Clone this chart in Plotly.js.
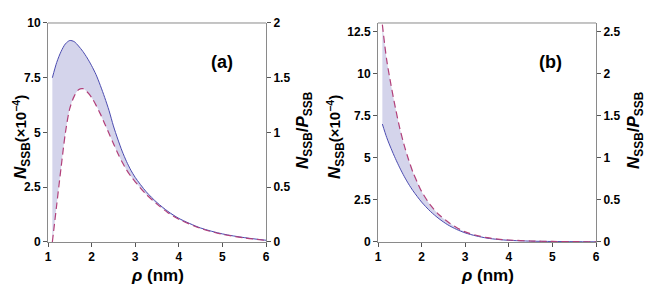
<!DOCTYPE html>
<html><head><meta charset="utf-8">
<script src="https://cdn.plot.ly/plotly-3.0.1.min.js"></script>
<style>html,body{margin:0;padding:0;background:#fff}</style>
</head><body><div id="chart" style="width:645px;height:291px"></div>
<script>
// Panel (a)
const rhoA = [1.1,1.2,1.3,1.4,1.5,1.6,1.7,1.8,1.9,2.0,2.1,2.2,2.3,2.4,2.5,2.6,2.7,2.8,2.9,3.0,3.25,3.5,3.75,4.0,4.5,5.0,5.5,6.0];
const solidA = [7.5,8.2,8.7,9.05,9.2,9.15,8.95,8.7,8.4,8.05,7.65,7.15,6.6,6.0,5.3,4.7,4.15,3.68,3.28,2.95,2.3,1.8,1.4,1.08,0.64,0.37,0.2,0.08];
const dashA  = [0.0,1.7,3.4,5.0,6.1,6.65,6.95,7.0,6.85,6.6,6.25,5.85,5.4,4.95,4.5,4.05,3.65,3.3,3.0,2.75,2.18,1.73,1.34,1.04,0.62,0.35,0.19,0.07];
// Panel (b)
const rhoB = [1.1,1.2,1.3,1.4,1.5,1.6,1.7,1.8,1.9,2.0,2.2,2.4,2.6,2.8,3.0,3.25,3.5,3.75,4.0,4.5,5.0,5.5,6.0];
const solidB = [7.0,6.2,5.55,4.95,4.4,3.9,3.45,3.05,2.7,2.37,1.82,1.38,1.02,0.75,0.54,0.36,0.23,0.15,0.1,0.05,0.03,0.02,0.01];
const dashB  = [12.9,10.8,9.3,7.95,6.75,5.75,4.9,4.15,3.55,3.0,2.2,1.62,1.2,0.86,0.6,0.4,0.26,0.17,0.12,0.06,0.035,0.02,0.01];
const xTicks = [1,2,3,4,5,6];
const yTicksA = [0,2.5,5,7.5,10];
const yTicksA2 = [0,0.5,1,1.5,2];
const yTicksB = [0,2.5,5,7.5,10,12.5];
const yTicksB2 = [0,0.5,1,1.5,2,2.5];
const panelLabels = ['(a)','(b)'];

const blue = '#4b4bb0', red = '#b2407a', fillC = 'rgb(212,212,235)';
const traces = [
  {x:rhoA, y:solidA, xaxis:'x', yaxis:'y', mode:'lines', line:{color:blue,width:1,shape:'spline',smoothing:0.8}, hoverinfo:'skip'},
  {x:rhoA, y:dashA, xaxis:'x', yaxis:'y', mode:'lines', fill:'tonexty', fillcolor:fillC, line:{color:red,width:1.2,dash:'7px,4px',shape:'spline',smoothing:0.8}, hoverinfo:'skip'},
  {x:[1], y:[0], xaxis:'x', yaxis:'y2', mode:'lines', line:{width:0}, hoverinfo:'skip'},
  {x:rhoB, y:solidB, xaxis:'x2', yaxis:'y3', mode:'lines', line:{color:blue,width:1,shape:'spline',smoothing:0.8}, hoverinfo:'skip'},
  {x:rhoB, y:dashB, xaxis:'x2', yaxis:'y3', mode:'lines', fill:'tonexty', fillcolor:fillC, line:{color:red,width:1.2,dash:'7px,4px',shape:'spline',smoothing:0.8}, hoverinfo:'skip'},
  {x:[1], y:[0], xaxis:'x2', yaxis:'y4', mode:'lines', line:{width:0}, hoverinfo:'skip'}
];

const F = 'Liberation Sans, Arial, sans-serif';
const tickFont = {family:F, size:12, color:'#000'};
const axLine = '#8a8a8a';
const bold = v => '<b>' + v + '</b>';
function xa(domain, anchor){return {domain:domain, anchor:anchor, range:[1,6], tickvals:xTicks, ticktext:xTicks.map(bold), ticks:'outside', ticklen:4, tickcolor:'#555', showline:true, linecolor:axLine, linewidth:1, showgrid:false, zeroline:false, tickfont:tickFont, fixedrange:true};}
function ya(anchor, range, vals, side, overlaying){const o={anchor:anchor, range:range, tickvals:vals, ticktext:vals.map(bold), ticks:'outside', ticklen:4, tickcolor:'#555', showline:true, linecolor:axLine, linewidth:1, showgrid:false, zeroline:false, tickfont:tickFont, side:side, domain:[0.1684,0.921], fixedrange:true}; if(overlaying){o.overlaying=overlaying;} return o;}

const tf = {family:F, size:17, color:'#000'};
const yTitle = '<b><i>N</i><sub>SSB</sub><span style="font-size:15px">(×10<sup>−4</sup>)</span></b>';
const y2Title = '<b><i>N</i><sub>SSB</sub>/<i>P</i><sub>SSB</sub></b>';
const xTitle = '<b><i>ρ</i> (nm)</b>';
const yl = 1-137/291, yr = 1-130/291;
const annotations = [
  {text:yTitle, x:21/645, y:yl, xref:'paper', yref:'paper', textangle:-90, showarrow:false, font:tf, xanchor:'center', yanchor:'middle'},
  {text:y2Title, x:304/645, y:yr, xref:'paper', yref:'paper', textangle:-90, showarrow:false, font:tf, xanchor:'center', yanchor:'middle'},
  {text:xTitle, x:157/645, y:1-275/291, xref:'paper', yref:'paper', showarrow:false, font:tf, xanchor:'center', yanchor:'middle'},
  {text:yTitle, x:335/645, y:yl, xref:'paper', yref:'paper', textangle:-90, showarrow:false, font:tf, xanchor:'center', yanchor:'middle'},
  {text:y2Title, x:635/645, y:yr, xref:'paper', yref:'paper', textangle:-90, showarrow:false, font:tf, xanchor:'center', yanchor:'middle'},
  {text:xTitle, x:487/645, y:1-275/291, xref:'paper', yref:'paper', showarrow:false, font:tf, xanchor:'center', yanchor:'middle'},
  {text:'<b>'+panelLabels[0]+'</b>', x:222/645, y:1-62/291, xref:'paper', yref:'paper', showarrow:false, font:{family:F,size:18,color:'#000'}, xanchor:'center', yanchor:'middle'},
  {text:'<b>'+panelLabels[1]+'</b>', x:550/645, y:1-62/291, xref:'paper', yref:'paper', showarrow:false, font:{family:F,size:18,color:'#000'}, xanchor:'center', yanchor:'middle'}
];

const dA = [48/645, 266/645], dB = [378/645, 596/645];
const layout = {
  width:645, height:291, margin:{l:0,r:0,t:0,b:0}, showlegend:false,
  paper_bgcolor:'#fff', plot_bgcolor:'#fff',
  xaxis: xa(dA,'y'), xaxis2: xa(dB,'y3'),
  yaxis: ya('x',[0,10],yTicksA,'left'),
  yaxis2: ya('x',[0,2],yTicksA2,'right','y'),
  yaxis3: ya('x2',[0,13],yTicksB,'left'),
  yaxis4: ya('x2',[0,2.6],yTicksB2,'right','y3'),
  annotations: annotations,
  shapes: [
    {type:'line', xref:'paper', yref:'paper', x0:dA[0], x1:dA[1], y0:0.921, y1:0.921, line:{color:axLine,width:1}},
    {type:'line', xref:'paper', yref:'paper', x0:dB[0], x1:dB[1], y0:0.921, y1:0.921, line:{color:axLine,width:1}}
  ]
};
Plotly.newPlot('chart', traces, layout, {staticPlot:true, displayModeBar:false});
</script></body></html>
